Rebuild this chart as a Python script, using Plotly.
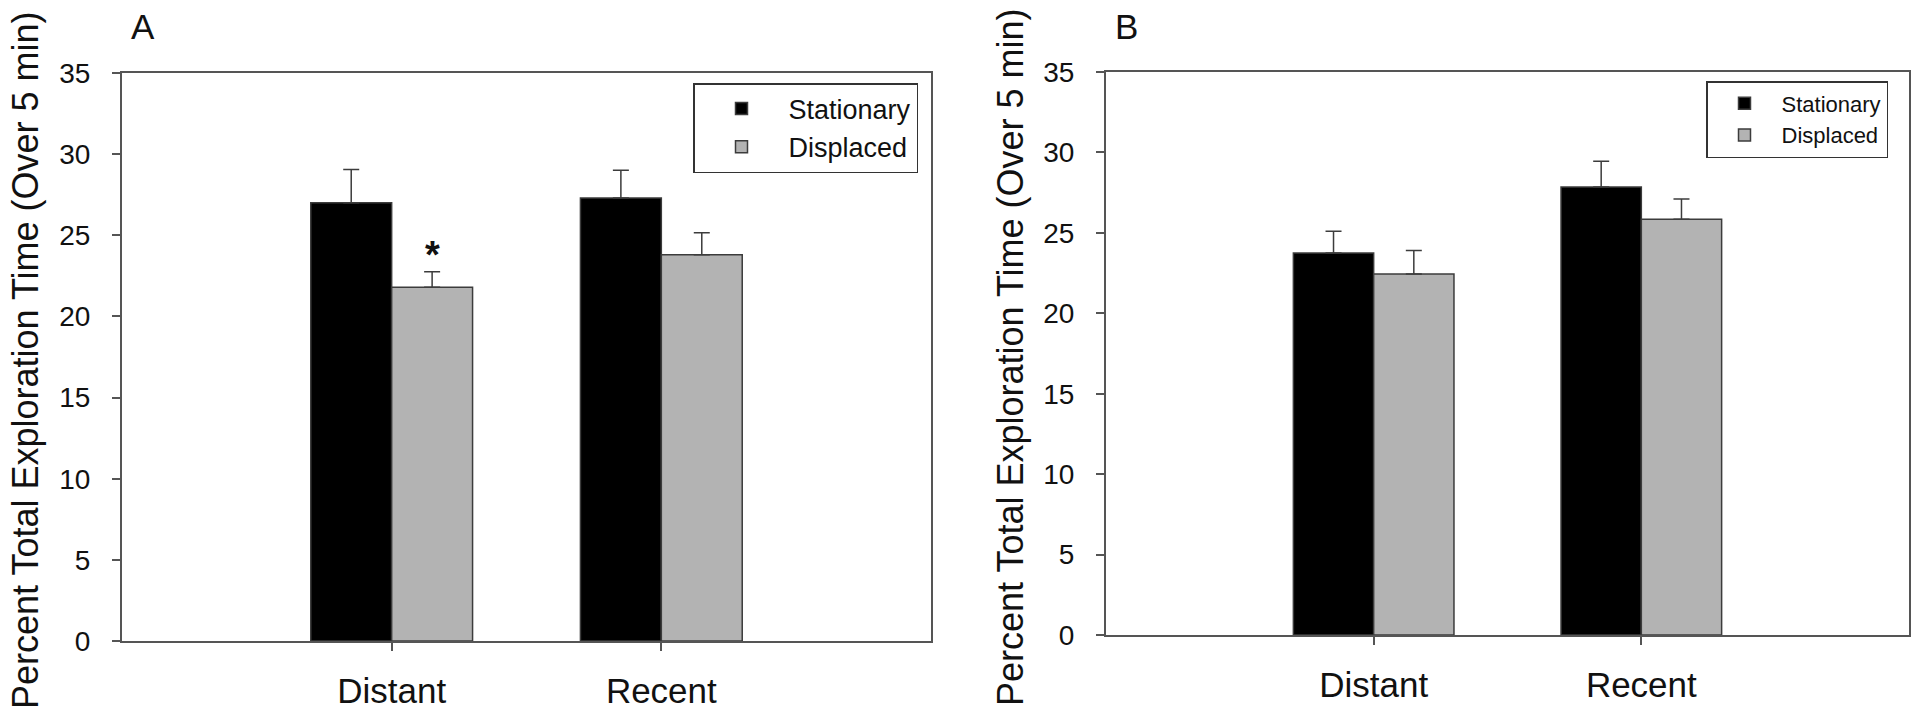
import plotly.graph_objects as go

categories = ["Distant", "Recent"]
series_names = ["Stationary", "Displaced"]

# Panel A
a_stationary = [27.0, 27.3]
a_stationary_err = [2.05, 1.7]
a_displaced = [21.8, 23.8]
a_displaced_err = [0.95, 1.35]

# Panel B
b_stationary = [23.75, 27.85]
b_stationary_err = [1.35, 1.6]
b_displaced = [22.45, 25.85]
b_displaced_err = [1.45, 1.25]

y_ticks = [0, 5, 10, 15, 20, 25, 30, 35]

W, H = 1920, 715
FONT = "Arial, Liberation Sans, sans-serif"
EDGE = "#3c3c3c"
AXIS = "#555555"
GRAY = "#b3b3b3"


def px_x(p):
    return p / W


def px_y(p):
    return (H - p) / H


fig = go.Figure()


def add_panel(stat, stat_err, disp, disp_err, xa, ya, legend):
    fig.add_trace(go.Bar(
        x=categories, y=stat, name=series_names[0],
        marker=dict(color="#000000", line=dict(color=EDGE, width=1.5)),
        error_y=dict(type="data", symmetric=False, array=stat_err,
                     arrayminus=[0] * len(stat_err), color=EDGE,
                     thickness=1.5, width=8),
        xaxis=xa, yaxis=ya, legend=legend, offsetgroup="s",
    ))
    fig.add_trace(go.Bar(
        x=categories, y=disp, name=series_names[1],
        marker=dict(color=GRAY, line=dict(color=EDGE, width=1.5)),
        error_y=dict(type="data", symmetric=False, array=disp_err,
                     arrayminus=[0] * len(disp_err), color=EDGE,
                     thickness=1.5, width=8),
        xaxis=xa, yaxis=ya, legend=legend, offsetgroup="d",
    ))


add_panel(a_stationary, a_stationary_err, a_displaced, a_displaced_err, "x", "y", "legend")
add_panel(b_stationary, b_stationary_err, b_displaced, b_displaced_err, "x2", "y2", "legend2")

xaxis_common = dict(
    type="category", range=[-1, 2], showline=True, linecolor=AXIS, linewidth=2,
    mirror=True, ticks="outside", ticklen=8, tickwidth=1.5, tickcolor=AXIS,
    showgrid=False, zeroline=False, tickfont=dict(family=FONT, size=35, color="#111111"),
    ticklabelstandoff=10, automargin=False,
)
yaxis_common = dict(
    range=[0, 35], tickvals=y_ticks, showline=True, linecolor=AXIS, linewidth=2,
    mirror=True, ticks="outside", ticklen=8, tickwidth=1.5, tickcolor=AXIS,
    showgrid=False, zeroline=False, tickfont=dict(family=FONT, size=28, color="#111111"),
    ticklabelstandoff=16, automargin=False,
)

fig.update_layout(
    width=W, height=H,
    margin=dict(l=0, r=0, t=0, b=0),
    paper_bgcolor="white", plot_bgcolor="white",
    barmode="group", bargap=0.4, bargroupgap=0,
    font=dict(family=FONT, color="#111111"),
    xaxis=dict(xaxis_common, domain=[px_x(122), px_x(931)], anchor="y"),
    yaxis=dict(yaxis_common, domain=[px_y(641), px_y(73)], anchor="x"),
    xaxis2=dict(xaxis_common, domain=[px_x(1106), px_x(1909)], anchor="y2"),
    yaxis2=dict(yaxis_common, domain=[px_y(635), px_y(72)], anchor="x2"),
    legend=dict(
        x=px_x(693), y=px_y(83), xanchor="left", yanchor="top",
        bordercolor="#333333", borderwidth=1.5, bgcolor="white",
        font=dict(family=FONT, size=27), itemwidth=84, tracegroupgap=0,
    ),
    legend2=dict(
        x=px_x(1706), y=px_y(81), xanchor="left", yanchor="top",
        bordercolor="#333333", borderwidth=1.5, bgcolor="white",
        font=dict(family=FONT, size=22), itemwidth=64, tracegroupgap=0,
    ),
    showlegend=True,
)

ytitle = "Percent Total Exploration Time (Over 5 min)"
ann = [
    dict(text=ytitle, xref="paper", yref="paper", x=px_x(25), y=px_y(360),
         textangle=-90, showarrow=False, xanchor="center", yanchor="middle",
         font=dict(family=FONT, size=36, color="#111111")),
    dict(text=ytitle, xref="paper", yref="paper", x=px_x(1010), y=px_y(357),
         textangle=-90, showarrow=False, xanchor="center", yanchor="middle",
         font=dict(family=FONT, size=36, color="#111111")),
    dict(text="A", xref="paper", yref="paper", x=px_x(143), y=px_y(26),
         showarrow=False, xanchor="center", yanchor="middle",
         font=dict(family=FONT, size=35, color="#111111")),
    dict(text="B", xref="paper", yref="paper", x=px_x(1126), y=px_y(26),
         showarrow=False, xanchor="center", yanchor="middle",
         font=dict(family=FONT, size=35, color="#111111")),
    dict(text="<b>*</b>", xref="x", yref="y", x=0.15,
         y=a_displaced[0] + a_displaced_err[0] - 0.4,
         showarrow=False, xanchor="center", yanchor="bottom",
         font=dict(family=FONT, size=38, color="#111111")),
]
fig.update_layout(annotations=ann)

fig.write_html(
    "out.html",
    config={"displayModeBar": False},
    post_script="document.body.style.margin='0';document.body.style.padding='0';",
)
